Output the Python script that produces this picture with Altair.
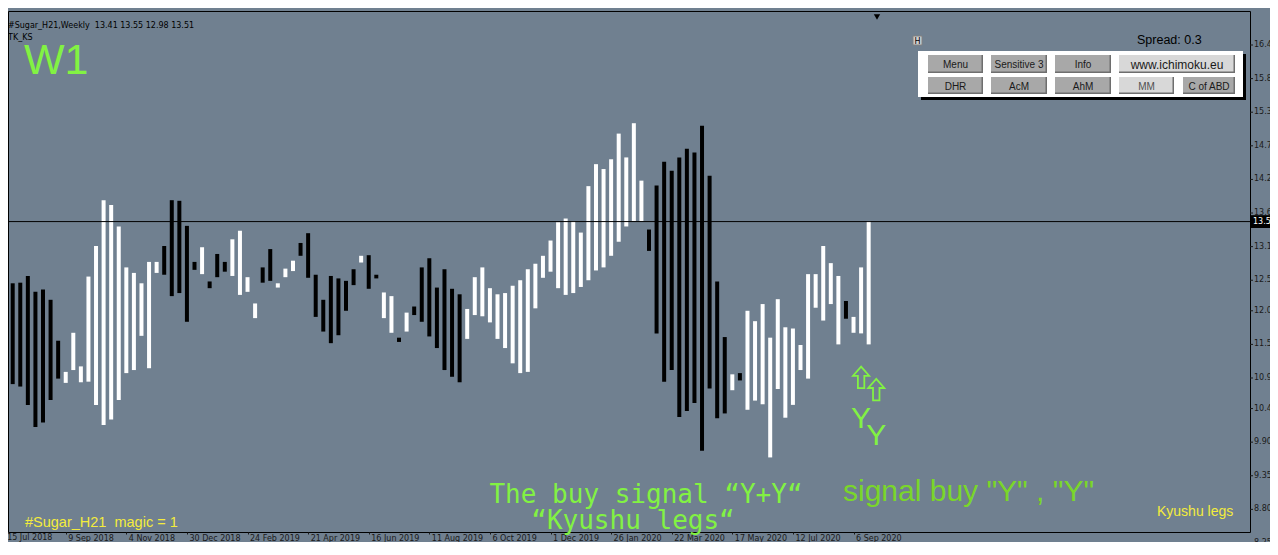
import json
import altair as alt
import pandas as pd

# ---------------- data ----------------
highs = [12.50, 12.51, 12.62, 12.36, 12.40, 12.23, 11.56, 11.05, 11.69, 11.14,
         12.61, 13.11, 13.86, 13.78, 13.43, 12.76, 12.67, 12.50, 12.85, 12.85,
         13.11, 13.86, 13.85, 13.44, 12.85, 13.09, 12.53, 12.98, 12.85, 13.22,
         13.36, 12.60, 12.17, 12.76, 13.06, 12.50, 12.74, 12.87, 13.16, 13.32,
         12.64, 12.23, 12.62, 12.58, 12.54, 12.73, 12.95, 12.96, 12.64, 12.35,
         12.29, 11.61, 12.02, 12.12, 12.76, 12.91, 12.43, 12.73, 12.41, 12.32,
         12.08, 12.60, 12.76, 12.42, 12.32, 12.34, 12.46, 12.55, 12.73, 12.82,
         12.95, 13.20, 13.50, 13.56, 13.52, 13.33, 14.09, 14.45, 14.37, 14.53,
         14.95, 14.56, 15.12, 14.18, 13.38, 14.10, 14.49, 14.34, 14.56, 14.70,
         14.64, 15.08, 14.26, 12.53, 11.62, 11.01, 11.03, 12.05, 11.88, 12.16,
         11.61, 12.24, 11.78, 11.76, 11.49, 12.65, 12.65, 13.11, 12.83, 12.62,
         12.21, 11.95, 12.76, 13.52]
lows = [10.85, 10.81, 10.51, 10.15, 10.22, 10.59, 10.94, 10.87, 11.08, 10.88,
        10.89, 10.51, 10.18, 10.27, 10.59, 11.03, 11.08, 11.64, 11.11, 12.67,
        12.64, 12.29, 12.34, 11.87, 12.72, 12.65, 12.42, 12.60, 12.69, 12.62,
        12.31, 12.36, 11.93, 12.51, 12.54, 12.43, 12.60, 12.70, 12.95, 12.59,
        11.95, 11.71, 11.52, 11.65, 12.05, 12.47, 12.84, 12.41, 12.58, 11.93,
        11.69, 11.54, 11.71, 11.98, 11.87, 11.63, 11.44, 11.08, 10.97, 10.88,
        11.59, 11.98, 11.96, 11.86, 11.59, 11.44, 11.19, 11.03, 11.05, 12.09,
        12.59, 12.69, 12.42, 12.31, 12.34, 12.44, 12.55, 12.71, 12.76, 12.95,
        13.18, 13.43, 13.52, 13.52, 13.03, 11.68, 10.89, 11.08, 10.31, 10.41,
        10.54, 9.76, 10.78, 10.29, 10.37, 10.75, 10.91, 10.43, 10.58, 10.52,
        9.65, 10.77, 10.30, 10.51, 11.08, 10.94, 12.10, 11.89, 12.16, 11.50,
        11.92, 11.69, 11.68, 11.50]
direction = (["down"] * 7 + ["up"] * 13 + ["down"] * 5 + ["up"] + ["down"] * 3 +
             ["up"] * 4 + ["down"] * 2 + ["up"] * 3 + ["down"] * 8 + ["up"] +
             ["down"] * 2 + ["up"] * 2 + ["down"] + ["up"] + ["down"] * 7 +
             ["up"] * 24 + ["down"] * 11 + ["up"] + ["down"] + ["up"] * 13 +
             ["down"] + ["up"] * 3)

tick_labels = ["15 Jul 2018", "9 Sep 2018", "4 Nov 2018", "30 Dec 2018",
               "24 Feb 2019", "21 Apr 2019", "16 Jun 2019", "11 Aug 2019",
               "6 Oct 2019", "1 Dec 2019", "26 Jan 2020", "22 Mar 2020",
               "17 May 2020", "12 Jul 2020", "6 Sep 2020"]
tick_weeks = [-1, 7, 15, 23, 31, 39, 47, 55, 63, 71, 79, 87, 95, 103, 111]
price_ticks = [16.40, 15.85, 15.30, 14.75, 14.20, 13.65, 13.10, 12.55, 12.05,
               11.50, 10.95, 10.45, 9.90, 9.35, 8.80, 8.25]
last_bar = [13.41, 13.55, 12.98, 13.51]   # open high low close
last_price = 13.51
signal_weeks = [112, 114]
signal_arrow_price = [10.96, 10.76]
signal_y_price = [10.13, 9.85]

GREEN = "#82F243"
GREEN2 = "#7AD62A"
YELLOW = "#F4EC3C"
BG = "#708090"

bars = pd.DataFrame({"week": list(range(len(highs))), "high": highs,
                     "low": lows, "dir": direction})
signals = pd.DataFrame({"week": signal_weeks, "arrow": signal_arrow_price,
                        "ytext": signal_y_price})
prices = pd.DataFrame({"price": price_ticks,
                       "label": [f"{p:.2f}" for p in price_ticks]})

W, H = 1242, 521
xscale = alt.Scale(domain=[-0.6205, 163.34], nice=False, zero=False)
yscale = alt.Scale(domain=[8.4295, 16.9565], nice=False, zero=False)

label_expr = json.dumps(tick_labels) + "[round((datum.value + 1) / 8)]"

base = alt.Chart(bars)
bar_layer = base.mark_rule(strokeWidth=4, strokeCap="butt").encode(
    x=alt.X("week:Q", scale=xscale,
            axis=alt.Axis(orient="bottom", values=tick_weeks[1:], labelExpr=label_expr,
                          title=None, grid=False, domain=False, tickSize=2,
                          tickColor="#1a1a1a", labelAlign="left", labelBaseline="top",
                          labelOffset=2, labelPadding=0, labelFont="DejaVu Sans",
                          labelFontSize=8, labelColor="#1a1a1a", labelOverlap=False,
                          labelFlush=False)),
    y=alt.Y("high:Q", scale=yscale, axis=None),
    y2="low:Q",
    color=alt.Color("dir:N", scale=alt.Scale(domain=["up", "down"],
                                             range=["#FFFFFF", "#000000"]),
                    legend=None),
)

one = alt.Data(values=[{}])

# right price scale: ticks and labels
price_tick_marks = alt.Chart(prices).mark_rule(color="#1a1a1a", strokeWidth=1).encode(
    x=alt.value(W), x2=alt.value(W + 3), y=alt.Y("price:Q", axis=None))
price_tick_text = alt.Chart(prices).mark_text(
    font="DejaVu Sans", fontSize=8, color="#1a1a1a", align="left",
    baseline="middle").encode(
    x=alt.value(W + 4), y=alt.Y("price:Q", axis=None), text="label:N")

first_date = alt.Chart(one).mark_text(
    text=tick_labels[0], font="DejaVu Sans", fontSize=8, color="#1a1a1a",
    align="left", baseline="top", dx=2).encode(
    x=alt.datum(tick_weeks[0]), y=alt.value(H + 2))

hline = alt.Chart(one).mark_rule(color="#000000", strokeWidth=1).encode(
    y=alt.YDatum(last_price, axis=None))

price_box = alt.Chart(one).mark_rect(color="#000000").encode(
    x=alt.value(W + 1), x2=alt.value(W + 22),
    y=alt.YDatum(last_price + 0.105, axis=None), y2=alt.datum(last_price - 0.105))
price_txt = alt.Chart(one).mark_text(
    text=f"{last_price:.2f}", color="#FFFFFF", font="DejaVu Sans", fontSize=8,
    align="left", baseline="middle").encode(
    x=alt.value(W + 3), y=alt.YDatum(last_price, axis=None))

arrow_path = "M0,-1 L0.75,-0.15 L0.3,-0.15 L0.3,1 L-0.3,1 L-0.3,-0.15 L-0.75,-0.15 Z"
arrows = alt.Chart(signals).mark_point(shape=arrow_path, size=460, filled=False,
                                       stroke=GREEN, strokeWidth=1.8, opacity=1).encode(
    x="week:Q", y=alt.Y("arrow:Q", axis=None))
ytext = alt.Chart(signals).mark_text(text="Y", color=GREEN, font="Liberation Sans",
                                     fontSize=30, align="center",
                                     baseline="alphabetic").encode(
    x="week:Q", y=alt.Y("ytext:Q", axis=None))


def label(x, y, text, size, color="#000000", font="Liberation Sans", align="left",
          baseline="alphabetic", weight="normal"):
    return alt.Chart(one).mark_text(text=text, fontSize=size, color=color, font=font,
                                    align=align, baseline=baseline,
                                    fontWeight=weight).encode(
        x=alt.value(x), y=alt.value(y))


def box(x, y, x2, y2, fill, stroke=None, sw=1):
    kw = dict(fill=fill)
    if stroke:
        kw.update(stroke=stroke, strokeWidth=sw)
    return alt.Chart(one).mark_rect(**kw).encode(
        x=alt.value(x), x2=alt.value(x2), y=alt.value(y), y2=alt.value(y2))


deco = []
header = "#Sugar_H21,Weekly\u00a0 " + " ".join(f"{v:.2f}" for v in last_bar)
deco.append(label(0, 17, header, 8, "#000000", "DejaVu Sans"))
deco.append(label(0, 29, "TK_KS", 8, "#000000", "DejaVu Sans"))
deco.append(label(16, 63, "W1", 43, GREEN, "Liberation Sans"))

# shift marker
deco.append(alt.Chart(one).mark_point(shape="triangle-down", size=40, filled=True,
                                      color="#000000", opacity=1).encode(
    x=alt.value(869), y=alt.value(6)))

# panel
deco.append(box(905, 25, 914, 34, "#D0D0D0", "#808080"))
deco.append(label(909.5, 33, "H", 8, "#000000", "DejaVu Sans", align="center"))
deco.append(label(1129, 33, "Spread: 0.3", 12.5, "#000000"))
deco.append(box(913, 43, 1238, 89, "#000000"))
deco.append(box(910, 40, 1235, 86, "#FFFFFF"))
buttons = [("Menu", 920, 975, 44, 62, "#A8A8A8"),
           ("Sensitive 3", 983, 1039, 44, 62, "#A8A8A8"),
           ("Info", 1047, 1103, 44, 62, "#A8A8A8"),
           ("www.ichimoku.eu", 1111, 1227, 44, 62, "#D8D8D8"),
           ("DHR", 920, 975, 66, 83, "#A8A8A8"),
           ("AcM", 983, 1039, 66, 83, "#A8A8A8"),
           ("AhM", 1047, 1103, 66, 83, "#A8A8A8"),
           ("MM", 1111, 1166, 66, 83, "#D8D8D8"),
           ("C of ABD", 1175, 1227, 66, 83, "#A8A8A8")]
for txt, x1, x2, y1, y2, fill in buttons:
    deco.append(box(x1, y1, x2, y2, "#6E6E6E"))
    deco.append(box(x1, y1, x2 - 1.5, y2 - 1.5, fill))
    size = 12 if txt.startswith("www") else 10
    col = "#505050" if txt == "MM" else "#1a1a1a"
    deco.append(label((x1 + x2) / 2, (y1 + y2) / 2 + 1, txt, size, col,
                      "Liberation Sans", align="center", baseline="middle"))

deco.append(label(638, 492, "The buy signal \u201cY+Y\u201c", 26, GREEN,
                  "DejaVu Sans Mono", align="center"))
deco.append(label(625, 518, "\u201cKyushu legs\u201c", 26, GREEN,
                  "DejaVu Sans Mono", align="center"))
deco.append(label(835, 490, "signal buy \"Y\" , \"Y\"", 30, GREEN2, "Liberation Sans"))
deco.append(label(17, 516, "#Sugar_H21\u00a0 magic = 1", 14.5, YELLOW, "Liberation Sans"))
deco.append(label(1149, 505, "Kyushu legs", 14, YELLOW, "Liberation Sans"))

chart = alt.layer(bar_layer, price_tick_marks, price_tick_text, first_date, hline,
                  price_box, price_txt, arrows, ytext, *deco).properties(
    width=W, height=H,
    padding={"left": 0, "top": 3, "right": 20, "bottom": 10},
    autosize=alt.AutoSizeParams(type="none"),
).configure(background=BG).configure_view(
    stroke="#000000", strokeWidth=1, fill=BG
).configure_axis(labelOverlap=False, labelFlush=False)

chart.save("out.html", embed_options={"renderer": "svg", "actions": False})
